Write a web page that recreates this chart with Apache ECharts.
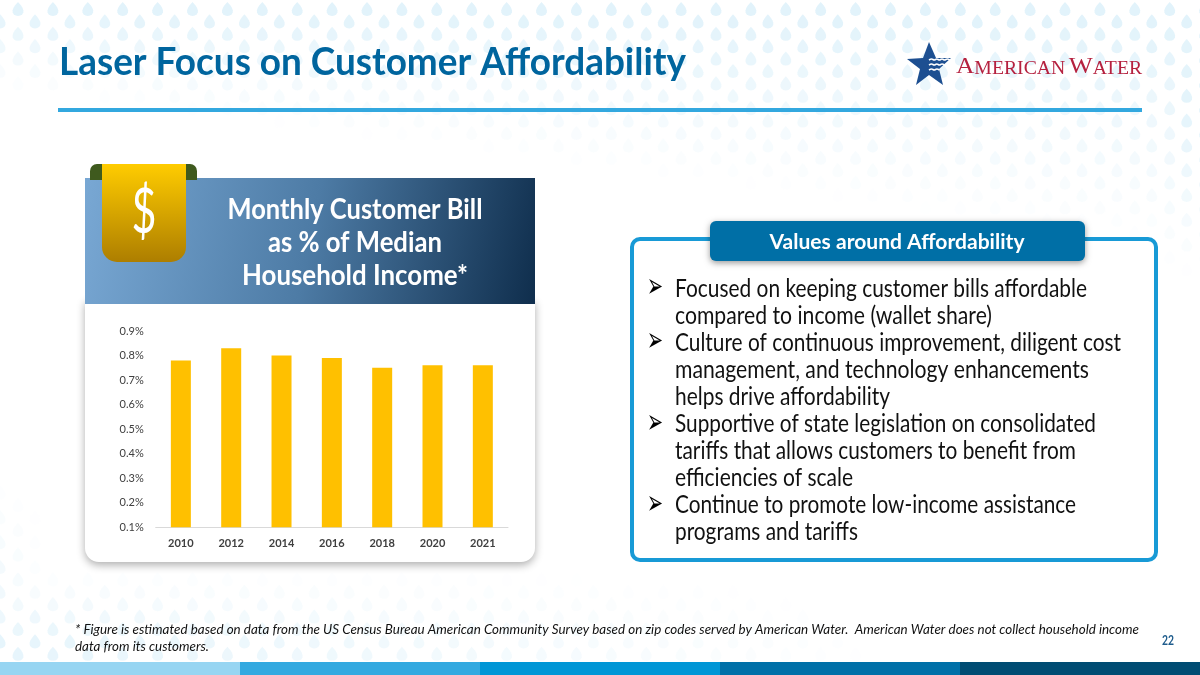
<!DOCTYPE html>
<html><head><meta charset="utf-8">
<style>html,body{margin:0;padding:0;background:#fff}#c{width:1200px;height:675px}</style>
<script src="https://cdn.jsdelivr.net/npm/echarts@6/dist/echarts.min.js"></script>
</head><body><div id="c"></div>
<script>
const years = ['2010','2012','2014','2016','2018','2020','2021'];
const billShare = [0.78,0.83,0.80,0.79,0.75,0.76,0.76];
const title = 'Laser Focus on Customer Affordability';
const panelTitle = ['Monthly Customer Bill','as % of Median','Household Income*'];
const tabTitle = 'Values around Affordability';
const bullets = [
 ['Focused on keeping customer bills affordable',412,true],
 ['compared to income (wallet share)',317,false],
 ['Culture of continuous improvement, diligent cost',446,true],
 ['management, and technology enhancements',414,false],
 ['helps drive affordability',215,false],
 ['Supportive of state legislation on consolidated',421,true],
 ['tariffs that allows customers to benefit from',401,false],
 ['efficiencies of scale',178,false],
 ['Continue to promote low-income assistance',401,true],
 ['programs and tariffs',183,false]
];
const footnote = ['* Figure is estimated based on data from the US Census Bureau American Community Survey based on zip codes served by American Water.  American Water does not collect household income','data from its customers.'];
const bandColors = ['#97d5f2','#33a9e0','#0096d6','#0070a8','#004c73'];

const cx = document.createElement('canvas').getContext('2d');
function T(text,x,y,size,color,opt){
  opt=opt||{};
  const weight=opt.weight||'normal', st=opt.style||'normal', fam=opt.family||'Lato';
  const font=st+' '+weight+' '+size+'px "'+fam+'"';
  cx.font=font;
  const w=cx.measureText(text).width;
  const s=opt.w?opt.w/w:1;
  const left=opt.center?x-w*s/2:x;
  return {type:'text',z:-1,x:left,y:y,scaleX:s,scaleY:opt.sy||1,silent:true,
    style:{text:text,x:0,y:0,fill:color,font:font,textAlign:'left',textVerticalAlign:'middle'}};
}
const clamp=v=>Math.max(0,Math.min(1,v));
function dropOp(x,y){
  return Math.max(
    clamp(1.1-y/(80+150*x/1200)),
    clamp((x-1130)/60)*clamp(1.1-(y-90)/170),
    clamp((y-570)/70)*clamp(1-x/900)*0.85,
    clamp((50-x)/50)*clamp((y-480)/160)*0.7
  );
}
const dropShape=[];
for(let i=0;i<18;i++){
  const t=i/18*2*Math.PI;
  dropShape.push([7.1*Math.sin(t)*Math.sin(t/2),-7*Math.cos(t)]);
}
const g=[];
g.push({type:'rect',z:-1,silent:true,shape:{x:0,y:0,width:1200,height:675},style:{fill:'#fff'}});
for(let r=0;r<54;r++){
  for(let c=-1;c<36;c++){
    const x=(r%2?35:18)+c*34.9, y=9+r*12.4;
    const o=dropOp(x,y);
    if(o<0.04||y>660) continue;
    g.push({type:'polygon',z:-1,silent:true,
      shape:{points:dropShape.map(p=>[p[0]+x,p[1]+y])},
      style:{fill:'#e2f3fb',opacity:o}});
  }
}
// header rule and bottom band
g.push({type:'rect',z:-1,silent:true,shape:{x:58,y:108,width:1084,height:4},style:{fill:'#33a8df'}});
bandColors.forEach((col,i)=>g.push({type:'rect',z:-1,silent:true,shape:{x:i*240,y:662,width:240,height:13},style:{fill:col}}));
g.push(T(title,59,63,38,'#00659e',{weight:'bold',w:627}));
// logo
g.push({type:'polygon',z:-1,silent:true,shape:{points:[[929,42],[936,58],[951,58],[939,69],[943,85],[929,75],[916,85],[920,69],[907,59],[923,58]]},style:{fill:'#1d4f91'}});
[[60,4],[65,3],[70,2]].forEach(w=>{
  const pts=[];
  for(let k=0;k<=w[1]*2;k++) pts.push([929+k*2.6,w[0]+(k%2?-1:0)]);
  g.push({type:'polyline',z:-1,silent:true,shape:{points:pts,smooth:0.4},style:{fill:null,stroke:'#fff',lineWidth:1.5}});
});
g.push({type:'text',z:-1,x:956,y:79,scaleX:1.06,silent:true,style:{
  text:'{a|A}{b|MERICAN} {a|W}{b|ATER}',textAlign:'left',textVerticalAlign:'bottom',
  rich:{a:{font:'24px "Liberation Serif"',fill:'#b5213f',verticalAlign:'bottom'},b:{font:'18.6px "Liberation Serif"',fill:'#b5213f',verticalAlign:'bottom'}}}});
// left panel
g.push({type:'rect',z:-1,silent:true,shape:{x:85,y:300,width:450,height:262,r:[0,0,14,14]},style:{fill:'#fff',shadowBlur:9,shadowColor:'rgba(0,0,0,.32)',shadowOffsetY:3}});
g.push({type:'rect',z:-1,silent:true,shape:{x:85,y:178,width:450,height:126},style:{fill:new echarts.graphic.LinearGradient(0,0.15,1,0.85,[{offset:0,color:'#78a7d3'},{offset:0.5,color:'#4d7ba5'},{offset:1,color:'#102f4e'}])}});
g.push({type:'rect',z:-1,silent:true,shape:{x:90,y:164,width:107,height:16,r:[7,7,0,0]},style:{fill:'#3f5a1e'}});
g.push({type:'rect',z:-1,silent:true,shape:{x:102,y:164,width:84,height:98,r:[0,0,15,15]},style:{fill:new echarts.graphic.LinearGradient(0,0,0,1,[{offset:0,color:'#ffcc00'},{offset:1,color:'#ad7e00'}])}});
g.push(T('$',144,213,62,'#fff',{center:true,w:25}));
[210,243,276].forEach((y,i)=>g.push(T(panelTitle[i],355,y,28.5,'#fff',{weight:'bold',center:true,w:[255,174,226][i]})));
// right panel
g.push({type:'rect',z:-1,silent:true,shape:{x:632,y:239,width:524,height:321,r:8},style:{fill:'#fff',stroke:'#189ad6',lineWidth:4}});
g.push({type:'rect',z:-1,silent:true,shape:{x:710,y:221,width:375,height:40,r:6},style:{fill:'#006fa6',shadowBlur:6,shadowColor:'rgba(0,0,0,.4)',shadowOffsetY:2}});
g.push(T(tabTitle,897,242,20.5,'#fff',{weight:'bold',center:true,w:255}));
bullets.forEach((b,i)=>{
  const y=288.5+i*27.1;
  if(b[2]) g.push(T('\u27A2',647,y,21,'#000',{family:'DejaVu Sans',sy:1.6,w:16}));
  g.push(T(b[0],675,y,25,'#111',{w:b[1]}));
});
// footnote
g.push(T(footnote[0],75,629,14,'#111',{style:'italic',w:1064}));
g.push(T(footnote[1],75,646,14,'#111',{style:'italic',w:134}));
g.push(T('22',1162,641,13,'#1f5c8c',{weight:'bold',w:12}));

const chart=echarts.init(document.getElementById('c'),null,{renderer:'canvas',width:1200,height:675});
chart.setOption({
  animation:false,
  backgroundColor:'#fff',
  graphic:{elements:g},
  grid:{left:155.7,right:692,top:331,bottom:147.7,containLabel:false},
  xAxis:{type:'category',data:years,axisTick:{show:false},
    axisLine:{lineStyle:{color:'#d9d9d9',width:1}},
    axisLabel:{color:'#404040',fontFamily:'Lato',fontSize:11,fontWeight:'bold',margin:11,interval:0}},
  yAxis:{type:'value',min:0.1,max:0.9,interval:0.1,splitLine:{show:false},axisLine:{show:false},axisTick:{show:false},
    axisLabel:{color:'#404040',fontFamily:'Lato',fontSize:11,margin:12,formatter:v=>v.toFixed(1)+'%'}},
  series:[{type:'bar',data:billShare,barWidth:20,itemStyle:{color:'#ffc000'},z:3}]
});
</script></body></html>
